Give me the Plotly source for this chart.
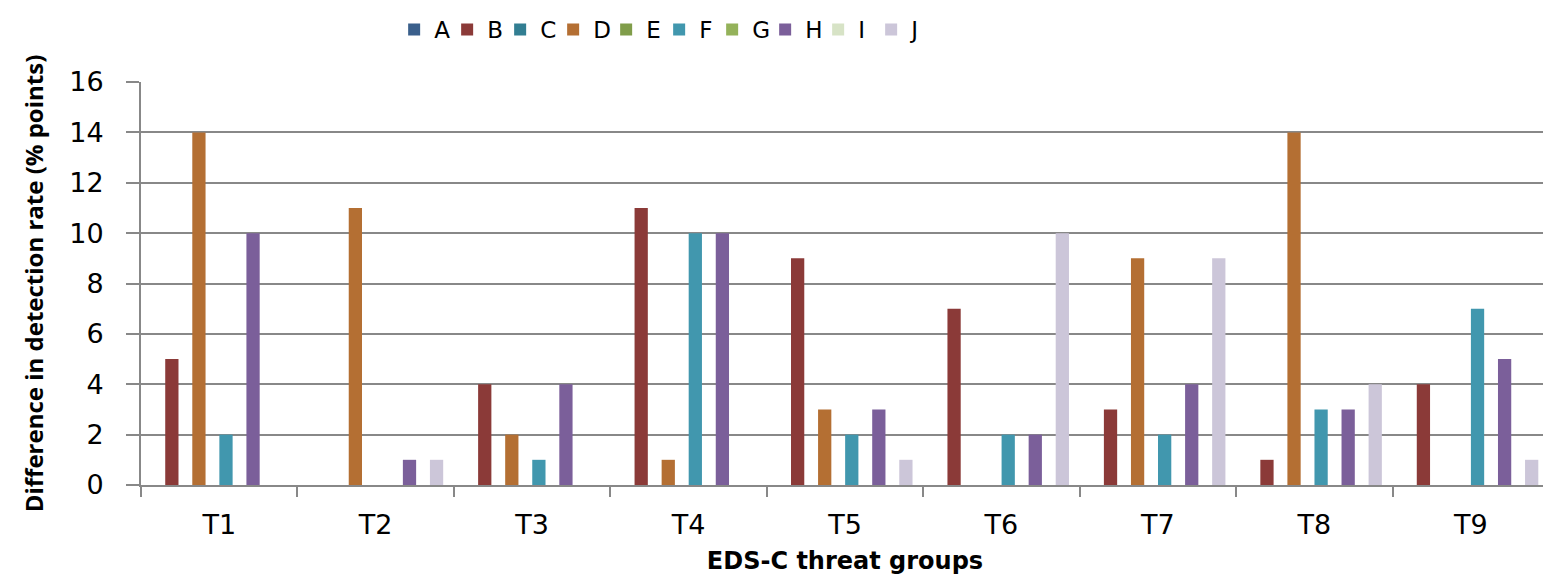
import plotly.graph_objects as go

categories = ["T1", "T2", "T3", "T4", "T5", "T6", "T7", "T8", "T9"]
series_names = ["A", "B", "C", "D", "E", "F", "G", "H", "I", "J"]
A = [0, 0, 0, 0, 0, 0, 0, 0, 0]
B = [5, 0, 4, 11, 9, 7, 3, 1, 4]
C = [0, 0, 0, 0, 0, 0, 0, 0, 0]
D = [14, 11, 2, 1, 3, 0, 9, 14, 0]
E = [0, 0, 0, 0, 0, 0, 0, 0, 0]
F = [2, 0, 1, 10, 2, 2, 2, 3, 7]
G = [0, 0, 0, 0, 0, 0, 0, 0, 0]
H = [10, 1, 4, 10, 3, 2, 4, 3, 5]
I = [0, 0, 0, 0, 0, 0, 0, 0, 0]
J = [0, 1, 0, 0, 1, 10, 9, 4, 1]
series_values = [A, B, C, D, E, F, G, H, I, J]
colors = ["#3A5F8B", "#8B3A38", "#327E92", "#B46F33", "#809D4A",
          "#4197AE", "#94B25A", "#7B5F9A", "#D7E3C6", "#CCC6D9"]

TICKFONT = "DejaVu Sans"
W, Hh = 1543, 577  # page body has an 8px margin

fig = go.Figure()
for name, vals, col in zip(series_names, series_values, colors):
    fig.add_trace(go.Bar(name=name, x=categories, y=vals, marker_color=col,
                         marker_line_width=0))

fig.update_layout(
    width=W, height=Hh,
    margin=dict(l=133, r=2, t=74, b=100),
    paper_bgcolor="white", plot_bgcolor="white",
    barmode="group", bargap=0.135, bargroupgap=0.02,
    font=dict(family=TICKFONT, size=24, color="black"),
    legend=dict(orientation="h", xref="container", yref="container",
                x=0.422, xanchor="center", y=1.0, yanchor="top",
                font=dict(size=23, family=TICKFONT), itemwidth=30, entrywidth=8,
                traceorder="normal"),
    showlegend=True,
)
fig.update_xaxes(
    automargin=False,
    showline=True, linecolor="#888888", linewidth=2,
    ticks="outside", tickson="boundaries", ticklen=10, tickwidth=2, tickcolor="#888888",
    tickfont=dict(size=27, family=TICKFONT), ticklabelstandoff=15,
    title=dict(text="<b>EDS-C threat groups</b>", font=dict(size=24, family=TICKFONT), standoff=13),
)
fig.update_yaxes(
    automargin=False,
    range=[0, 16], dtick=2, showgrid=True, gridcolor="#888888", gridwidth=2,
    showline=True, linecolor="#888888", linewidth=2,
    ticks="outside", ticklen=13, tickwidth=2, tickcolor="#888888",
    tickfont=dict(size=27, family=TICKFONT), zeroline=False, ticklabelstandoff=17,
    title=dict(text="<b>Difference in detection rate (% points)</b>",
               font=dict(size=24, family="Open Sans"), standoff=19),
)

fig.write_html("out.html")
